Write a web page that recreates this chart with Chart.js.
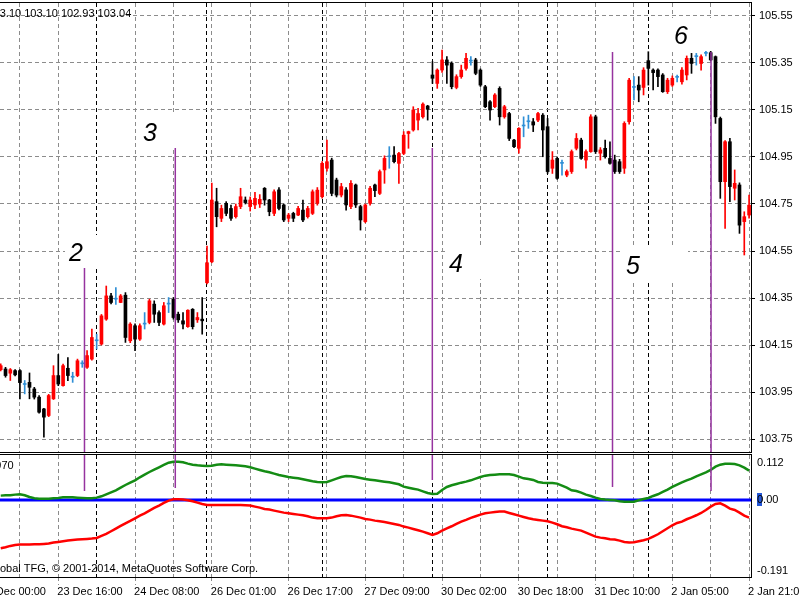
<!DOCTYPE html>
<html>
<head>
<meta charset="utf-8">
<script src="https://cdn.jsdelivr.net/npm/chart.js@4.4.1/dist/chart.umd.min.js"></script>
<style>
  html, body { margin: 0; padding: 0; background: #fff; overflow: hidden; }
  #wrap { position: relative; width: 800px; height: 600px; }
  #priceChart { position: absolute; left: 0; top: 0; }
  #indChart { position: absolute; left: 0; top: 452px; }
</style>
</head>
<body>
<div id="wrap">
  <canvas id="priceChart" width="800" height="455"></canvas>
  <canvas id="indChart" width="800" height="148"></canvas>
</div>
<script>
// H1 bars, index 0 = 23 Dec 00:00; first visible bar is index 4
var firstBar = 4;

var barOpen = [
  104.045,104.048,104.030,104.041,104.041,103.982,103.991,103.963,103.928,103.878,
  103.850,103.921,104.020,103.977,104.051,104.013,104.020,104.070,104.055,104.090,
  104.168,104.154,104.260,104.359,104.345,104.331,104.362,104.168,104.232,104.175,
  104.239,104.246,104.324,104.288,104.239,104.324,104.345,104.281,104.253,104.228,
  104.302,104.257,104.260,104.415,104.504,104.760,104.689,104.753,104.731,104.696,
  104.739,104.767,104.739,104.746,104.750,104.817,104.767,104.710,104.810,104.746,
  104.689,104.710,104.703,104.724,104.696,104.710,104.753,104.781,104.902,104.937,
  104.852,104.788,104.810,104.739,104.831,104.739,104.675,104.753,104.831,104.795,
  104.895,104.951,104.958,104.923,104.965,105.050,105.065,105.107,105.121,105.167,
  105.299,105.263,105.320,105.363,105.349,105.246,105.292,105.327,105.358,105.363,
  105.320,105.249,105.185,105.164,105.242,105.121,105.135,105.022,104.987,105.082,
  105.100,105.100,105.107,105.128,105.079,104.902,104.944,104.923,104.873,104.888,
  104.987,105.022,104.937,104.973,105.121,104.966,104.987,104.944,104.937,104.930,
  104.902,105.100,105.246,105.256,105.246,105.360,105.320,105.320,105.299,105.228,
  105.256,105.289,105.270,105.299,105.370,105.377,105.348,105.391,105.394,105.377,
  105.114,104.845,105.015,104.817,104.831,104.675,104.703
];
var barHigh = [
  104.070,104.055,104.050,104.045,104.045,103.999,104.031,103.970,103.935,103.880,
  103.940,104.062,104.110,104.069,104.097,104.034,104.090,104.083,104.126,104.218,
  104.196,104.280,104.401,104.370,104.394,104.365,104.373,104.245,104.240,104.240,
  104.288,104.345,104.338,104.295,104.331,104.352,104.352,104.290,104.288,104.300,
  104.305,104.288,104.352,104.571,104.839,104.817,104.745,104.760,104.745,104.750,
  104.817,104.780,104.780,104.800,104.790,104.820,104.770,104.810,104.820,104.750,
  104.710,104.715,104.740,104.767,104.740,104.810,104.820,104.930,105.022,104.945,
  104.860,104.838,104.820,104.850,104.835,104.745,104.750,104.825,104.835,104.895,
  104.955,104.994,104.994,104.970,105.058,105.060,105.164,105.157,105.180,105.170,
  105.356,105.325,105.405,105.377,105.355,105.300,105.341,105.391,105.377,105.370,
  105.325,105.255,105.190,105.220,105.249,105.170,105.140,105.025,105.075,105.121,
  105.128,105.114,105.140,105.135,105.114,104.973,104.950,104.937,104.895,104.980,
  105.050,105.030,104.980,105.130,105.128,104.990,105.022,105.015,104.958,104.940,
  105.100,105.285,105.292,105.292,105.330,105.398,105.325,105.325,105.305,105.285,
  105.295,105.299,105.330,105.380,105.391,105.391,105.385,105.405,105.405,105.380,
  105.120,105.020,105.029,104.895,104.840,104.717,104.788
];
var barLow = [
  104.040,104.013,103.999,104.018,103.921,103.942,103.921,103.920,103.860,103.758,
  103.845,103.918,103.977,103.975,103.998,103.991,104.015,104.055,104.050,104.085,
  104.133,104.150,104.255,104.325,104.323,104.330,104.161,104.160,104.126,104.170,
  104.218,104.240,104.246,104.232,104.235,104.288,104.260,104.246,104.218,104.225,
  104.218,104.246,104.196,104.410,104.500,104.653,104.675,104.700,104.680,104.690,
  104.730,104.750,104.720,104.730,104.735,104.745,104.700,104.700,104.725,104.675,
  104.675,104.675,104.700,104.675,104.690,104.705,104.745,104.775,104.890,104.785,
  104.780,104.780,104.724,104.730,104.735,104.639,104.670,104.745,104.781,104.790,
  104.838,104.902,104.925,104.838,104.960,104.987,105.060,105.065,105.115,105.107,
  105.263,105.242,105.310,105.263,105.240,105.240,105.285,105.320,105.341,105.300,
  105.250,105.160,105.107,105.160,105.086,105.115,105.020,104.990,104.966,105.036,
  105.072,105.058,105.100,104.951,104.880,104.880,104.855,104.873,104.866,104.880,
  104.980,104.940,104.902,104.970,104.965,104.937,104.945,104.920,104.880,104.880,
  104.880,105.090,105.193,105.185,105.214,105.256,105.235,105.249,105.225,105.220,
  105.250,105.270,105.260,105.278,105.306,105.341,105.320,105.380,105.360,105.093,
  104.774,104.646,104.760,104.767,104.625,104.533,104.690
];
var barClose = [
  104.062,104.020,104.045,104.023,103.990,103.982,103.970,103.928,103.864,103.843,
  103.935,104.020,103.984,104.062,104.020,104.013,104.083,104.070,104.105,104.182,
  104.168,104.274,104.359,104.331,104.345,104.359,104.182,104.239,104.175,104.232,
  104.239,104.338,104.281,104.246,104.317,104.324,104.267,104.257,104.239,104.298,
  104.228,104.267,104.253,104.500,104.767,104.696,104.731,104.710,104.689,104.739,
  104.781,104.756,104.767,104.774,104.770,104.767,104.717,104.802,104.731,104.682,
  104.703,104.689,104.731,104.682,104.731,104.802,104.809,104.923,104.930,104.795,
  104.788,104.824,104.746,104.838,104.746,104.682,104.746,104.817,104.807,104.888,
  104.944,104.951,104.930,104.965,105.043,105.058,105.150,105.135,105.175,105.153,
  105.285,105.320,105.363,105.341,105.249,105.292,105.320,105.370,105.358,105.306,
  105.256,105.164,105.150,105.214,105.121,105.164,105.029,104.994,105.072,105.082,
  105.100,105.086,105.135,105.065,104.888,104.937,104.859,104.923,104.888,104.973,
  105.029,104.944,104.973,105.121,104.973,104.980,104.951,104.923,104.888,104.888,
  105.093,105.277,105.246,105.235,105.320,105.327,105.309,105.292,105.228,105.277,
  105.285,105.289,105.320,105.370,105.348,105.377,105.377,105.391,105.363,105.121,
  104.845,105.015,104.824,104.838,104.660,104.696,104.745
];

// lower window: two oscillator lines, one value per bar
var greenLine = [
  0.0111,0.0119,0.0119,0.0136,0.0144,0.0119,0.0078,0.0045,0.0036,0.0036,
  0.0036,0.0045,0.0053,0.0069,0.0069,0.0069,0.0061,0.0053,0.0045,0.0045,
  0.0061,0.0094,0.0144,0.0194,0.0243,0.0309,0.0375,0.0433,0.0491,0.0566,
  0.0632,0.0698,0.0756,0.0814,0.0872,0.0930,0.0954,0.0954,0.0938,0.0905,
  0.0880,0.0863,0.0855,0.0847,0.0855,0.0880,0.0888,0.0880,0.0872,0.0863,
  0.0855,0.0839,0.0814,0.0781,0.0748,0.0715,0.0690,0.0657,0.0624,0.0599,
  0.0574,0.0557,0.0541,0.0516,0.0491,0.0466,0.0450,0.0442,0.0450,0.0491,
  0.0533,0.0574,0.0599,0.0591,0.0574,0.0549,0.0524,0.0508,0.0491,0.0475,
  0.0458,0.0442,0.0417,0.0392,0.0334,0.0309,0.0284,0.0260,0.0218,0.0177,
  0.0152,0.0160,0.0251,0.0326,0.0367,0.0400,0.0433,0.0458,0.0491,0.0533,
  0.0574,0.0607,0.0624,0.0632,0.0640,0.0640,0.0640,0.0624,0.0582,0.0541,
  0.0524,0.0500,0.0450,0.0433,0.0425,0.0425,0.0409,0.0359,0.0309,0.0243,
  0.0227,0.0185,0.0136,0.0103,0.0061,0.0028,0.0012,0.0003,-0.0005,-0.0030,
  -0.0038,-0.0038,-0.0038,-0.0005,0.0028,0.0053,0.0103,0.0144,0.0202,0.0260,
  0.0326,0.0384,0.0442,0.0491,0.0533,0.0591,0.0640,0.0690,0.0748,0.0830,
  0.0880,0.0905,0.0905,0.0896,0.0863,0.0806,0.0731
];
var redLine = [
  -0.1196,-0.1171,-0.1138,-0.1113,-0.1105,-0.1105,-0.1105,-0.1097,-0.1097,-0.1089,
  -0.1080,-0.1055,-0.1039,-0.1022,-0.1006,-0.0989,-0.0981,-0.0973,-0.0965,-0.0956,
  -0.0940,-0.0890,-0.0840,-0.0774,-0.0708,-0.0642,-0.0576,-0.0518,-0.0452,-0.0386,
  -0.0328,-0.0261,-0.0195,-0.0137,-0.0071,-0.0013,0.0020,0.0020,0.0012,-0.0005,
  -0.0030,-0.0063,-0.0096,-0.0121,-0.0121,-0.0121,-0.0121,-0.0121,-0.0121,-0.0121,
  -0.0121,-0.0129,-0.0137,-0.0162,-0.0187,-0.0220,-0.0236,-0.0261,-0.0286,-0.0311,
  -0.0328,-0.0344,-0.0361,-0.0377,-0.0402,-0.0435,-0.0451,-0.0451,-0.0451,-0.0435,
  -0.0402,-0.0377,-0.0369,-0.0386,-0.0410,-0.0435,-0.0468,-0.0485,-0.0510,-0.0526,
  -0.0543,-0.0567,-0.0592,-0.0617,-0.0658,-0.0683,-0.0716,-0.0749,-0.0783,-0.0824,
  -0.0865,-0.0824,-0.0758,-0.0700,-0.0650,-0.0592,-0.0534,-0.0493,-0.0443,-0.0402,
  -0.0361,-0.0328,-0.0311,-0.0294,-0.0286,-0.0286,-0.0319,-0.0352,-0.0386,-0.0419,
  -0.0452,-0.0476,-0.0493,-0.0510,-0.0526,-0.0559,-0.0600,-0.0650,-0.0675,-0.0708,
  -0.0733,-0.0758,-0.0808,-0.0857,-0.0907,-0.0932,-0.0948,-0.0973,-0.0981,-0.1006,
  -0.1039,-0.1055,-0.1047,-0.1022,-0.0998,-0.0965,-0.0907,-0.0849,-0.0774,-0.0700,
  -0.0625,-0.0567,-0.0534,-0.0476,-0.0427,-0.0377,-0.0319,-0.0245,-0.0162,-0.0096,
  -0.0080,-0.0137,-0.0212,-0.0245,-0.0311,-0.0386,-0.0435
];
var zeroLevel = 0;

// time axis
var labelBars = [0, 16, 32, 48, 64, 80, 96, 112, 128, 144, 160];
var timeLabels = ['23 Dec 00:00', '23 Dec 16:00', '24 Dec 08:00', '26 Dec 01:00', '26 Dec 17:00',
  '27 Dec 09:00', '30 Dec 02:00', '30 Dec 18:00', '31 Dec 10:00', '2 Jan 05:00', '2 Jan 21:00'];
var dayBreaks = [24, 47, 71, 94, 118, 139];

// price axis and lower window axis
var priceTicks = [103.75, 103.95, 104.15, 104.35, 104.55, 104.75, 104.95, 105.15, 105.35, 105.55];
var indTickValues = [0.112, 0, -0.191];
var indTickLabels = ['0.112', '0.00', '-0.191'];

// numbered marks and their vertical lines (bar index, price, lower window value)
var markNames = ['1', '2', '3', '4', '5', '6'];
var markBars = [-8.24, 17.40, 32.82, 96.61, 133.51, 143.52];
var markPrices = [105.129, 104.618, 105.129, 104.571, 104.563, 105.541];
var vlineBars = [21.46, 40.39, 93.97, 131.53, 152.07];
var vlineTops = [104.478, 104.988, 104.988, 105.397, 105.397];
var vlineEnds = [0.0227, 0.0301, 0.0500, 0.0326, 0.0227];

var headerText = '103.10 103.10 102.93 103.04';
var indicatorText = '0.0970';
var copyrightText = 'Global TFG, \u00a9 2001-2014, MetaQuotes Software Corp.';

var xMin = 3.85, xMax = 160.4;
var priceMin = 103.6947, priceMax = 105.6053;
var indMin = -0.191, indMax = 0.112;

var GRID = '#8c8c8c';
var PURPLE = '#96339f';
var FONT = '"Liberation Sans", Arial, sans-serif';

Chart.defaults.font.family = FONT;
Chart.defaults.font.size = 11;
Chart.defaults.color = '#000';

// build candle pieces
var wickData = [], bodyData = [], candleColors = [];
for (var i = 0; i < barOpen.length; i++) {
  wickData.push({ x: firstBar + i, y: [barLow[i], barHigh[i]] });
  bodyData.push({ x: firstBar + i, y: [barOpen[i], barClose[i]] });
  if (barClose[i] > barOpen[i]) candleColors.push('#ff0000');
  else if (barClose[i] < barOpen[i]) candleColors.push('#000000');
  else candleColors.push('#2f8fd6');
}

var gridBars = [];
for (var b = 8; b <= 160; b += 8) gridBars.push(b);
dayBreaks.forEach(function (d) { if (gridBars.indexOf(d) < 0) gridBars.push(d); });
gridBars.sort(function (a, b) { return a - b; });

function makeXScale(showLabels) {
  return {
    type: 'linear',
    min: xMin,
    max: xMax,
    offset: false,
    afterBuildTicks: function (scale) {
      var list = gridBars.slice();
      if (showLabels) list.unshift(labelBars[0]);
      scale.ticks = list.map(function (v) { return { value: v }; });
    },
    afterFit: function (scale) {
      scale.height = showLabels ? 23 : 0;
      scale.paddingLeft = 0;
      scale.paddingRight = 0;
    },
    ticks: {
      display: showLabels,
      autoSkip: false,
      maxRotation: 0,
      minRotation: 0,
      align: 'start',
      padding: 0,
      labelOffset: -1,
      callback: function (value) {
        var k = labelBars.indexOf(value);
        return k >= 0 ? timeLabels[k] : '';
      }
    },
    grid: {
      offset: false,
      drawTicks: showLabels,
      tickLength: 8,
      color: function (c) {
        return (c.tick && dayBreaks.indexOf(c.tick.value) >= 0) ? '#000' : GRID;
      },
      tickColor: function (c) {
        return (c.tick && labelBars.indexOf(c.tick.value) >= 0) ? GRID : 'rgba(0,0,0,0)';
      },
      tickBorderDash: [4, 3]
    },
    border: { display: false, dash: [4, 3] }
  };
}

var framePlugin = {
  id: 'frame',
  afterDraw: function (chart) {
    var ca = chart.chartArea, ctx = chart.ctx;
    ctx.save();
    ctx.strokeStyle = '#000';
    ctx.lineWidth = 1;
    ctx.strokeRect(Math.round(ca.left) - 0.5, Math.round(ca.top) - 0.5,
      Math.round(ca.right - ca.left) + 1, Math.round(ca.bottom - ca.top) + 1);
    ctx.restore();
  }
};

var priceTextPlugin = {
  id: 'priceText',
  afterDatasetsDraw: function (chart) {
    var ctx = chart.ctx, xs = chart.scales.x, ys = chart.scales.y;
    ctx.save();
    for (var k = 0; k < markNames.length; k++) {
      var px = Math.round(xs.getPixelForValue(markBars[k]));
      var py = Math.round(ys.getPixelForValue(markPrices[k]));
      ctx.fillStyle = '#fff';
      ctx.fillRect(px, py, 66, 33);
      ctx.fillStyle = '#000';
      ctx.font = 'italic 25px ' + FONT;
      ctx.textBaseline = 'alphabetic';
      ctx.fillText(markNames[k], px + 4, py + 26);
    }
    ctx.font = '11px ' + FONT;
    ctx.textBaseline = 'middle';
    ctx.fillText(headerText, -12.5, 14);
    ctx.restore();
  }
};

var indTextPlugin = {
  id: 'indText',
  afterDatasetsDraw: function (chart) {
    var ctx = chart.ctx, ca = chart.chartArea, ys = chart.scales.y;
    ctx.save();
    ctx.fillStyle = '#000';
    ctx.font = '11px ' + FONT;
    ctx.textBaseline = 'middle';
    ctx.fillText(indicatorText, -20, ca.top + 11);
    ctx.fillText(copyrightText, -11, ca.bottom - 8);
    // selection cursor on the zero level label
    var zy = Math.round(ys.getPixelForValue(zeroLevel));
    ctx.fillStyle = '#2456d6';
    ctx.fillRect(Math.round(ca.right) + 6, zy - 7, 5, 13);
    ctx.fillStyle = '#000';
    ctx.fillText('0', Math.round(ca.right) + 6, zy);
    ctx.restore();
  }
};

// price window
var priceSets = [];
for (var k = 0; k < vlineBars.length; k++) {
  priceSets.push({
    type: 'line',
    data: [{ x: vlineBars[k], y: vlineTops[k] }, { x: vlineBars[k], y: priceMin }],
    borderColor: PURPLE, borderWidth: 1.5, pointRadius: 0, order: 1
  });
}
priceSets.push({
  type: 'bar', data: bodyData, backgroundColor: candleColors,
  barThickness: 3, minBarLength: 1, grouped: false, order: 2
});
priceSets.push({
  type: 'bar', data: wickData, backgroundColor: candleColors,
  barThickness: 1, grouped: false, order: 3
});

new Chart(document.getElementById('priceChart'), {
  type: 'bar',
  data: { datasets: priceSets },
  options: {
    responsive: false,
    animation: false,
    devicePixelRatio: 1,
    events: [],
    layout: { padding: { top: 3, bottom: 3, left: 0, right: 0 } },
    plugins: { legend: { display: false }, tooltip: { enabled: false } },
    scales: {
      x: makeXScale(false),
      y: {
        position: 'right',
        min: priceMin,
        max: priceMax,
        afterBuildTicks: function (scale) {
          scale.ticks = priceTicks.map(function (v) { return { value: v }; });
        },
        afterFit: function (scale) {
          scale.width = 49;
          scale.paddingTop = 0;
          scale.paddingBottom = 0;
        },
        ticks: {
          padding: 4,
          autoSkip: false,
          callback: function (v) { return v.toFixed(2); }
        },
        grid: { color: GRID, tickColor: '#000', tickLength: 4 },
        border: { display: false, dash: [4, 3] }
      }
    }
  },
  plugins: [framePlugin, priceTextPlugin]
});

// lower window
var indSets = [];
for (var k2 = 0; k2 < vlineBars.length; k2++) {
  indSets.push({
    data: [{ x: vlineBars[k2], y: indMax }, { x: vlineBars[k2], y: vlineEnds[k2] }],
    borderColor: PURPLE, borderWidth: 1.5, pointRadius: 0, order: 0
  });
}
var greenData = [], redData = [];
for (var j = 0; j < greenLine.length; j++) {
  greenData.push({ x: firstBar + j, y: greenLine[j] });
  redData.push({ x: firstBar + j, y: redLine[j] });
}
indSets.push({ data: greenData, borderColor: '#148c14', borderWidth: 2.5, pointRadius: 0, order: 1 });
indSets.push({ data: redData, borderColor: '#ff0000', borderWidth: 2.5, pointRadius: 0, order: 1 });
indSets.push({
  data: [{ x: xMin, y: zeroLevel }, { x: xMax, y: zeroLevel }],
  borderColor: '#0000ff', borderWidth: 3, pointRadius: 0, order: 5
});

new Chart(document.getElementById('indChart'), {
  type: 'line',
  data: { datasets: indSets },
  options: {
    responsive: false,
    animation: false,
    devicePixelRatio: 1,
    events: [],
    layout: { padding: { top: 3, bottom: 0, left: 0, right: 0 } },
    plugins: { legend: { display: false }, tooltip: { enabled: false } },
    scales: {
      x: makeXScale(true),
      y: {
        position: 'right',
        min: indMin,
        max: indMax,
        afterBuildTicks: function (scale) {
          // edge labels sit just inside the window, as in the terminal
          var nudge = [-0.020, 0, 0.015];
          scale.ticks = indTickValues.map(function (v, k) { return { value: v + nudge[k] }; });
        },
        afterFit: function (scale) {
          scale.width = 49;
          scale.paddingTop = 0;
          scale.paddingBottom = 0;
        },
        ticks: {
          padding: 2,
          autoSkip: false,
          callback: function (v, k) { return indTickLabels[k]; }
        },
        grid: { drawOnChartArea: false, tickColor: 'rgba(0,0,0,0)', tickLength: 4 },
        border: { display: false }
      }
    }
  },
  plugins: [framePlugin, indTextPlugin]
});
</script>
</body>
</html>
